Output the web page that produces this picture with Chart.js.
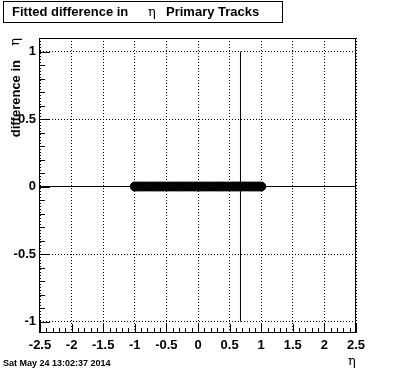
<!DOCTYPE html>
<html>
<head>
<meta charset="utf-8">
<script src="https://cdn.jsdelivr.net/npm/chart.js@4.4.1/dist/chart.umd.min.js"></script>
<style>
  html, body { margin: 0; padding: 0; background: #fff; }
  canvas { display: block; }
</style>
</head>
<body>
<canvas id="etaChart" width="396" height="372"></canvas>
<script>
// fitted difference in eta per bin (primary tracks)
const binEta = [-1.0, -0.95, -0.9, -0.85, -0.8, -0.75, -0.7, -0.65, -0.6, -0.55,
                -0.5, -0.45, -0.4, -0.35, -0.3, -0.25, -0.2, -0.15, -0.1, -0.05,
                0.0, 0.05, 0.1, 0.15, 0.2, 0.25, 0.3, 0.35, 0.4, 0.45,
                0.5, 0.55, 0.6, 0.65, 0.7, 0.75, 0.8, 0.85, 0.9, 0.95, 1.0];
const binDiff = [0, 0, 0, 0, 0, 0, 0, 0, 0, 0,
                 0, 0, 0, 0, 0, 0, 0, 0, 0, 0,
                 0, 0, 0, 0, 0, 0, 0, 0, 0, 0,
                 0, 0, 0, 0, 0, 0, 0, 0, 0, 0, 0];

// fit line and the single vertical marker
const fitEta = [-2.5, 2.5];
const fitDiff = [0, 0];
const markEta = [0.672, 0.672];
const markDiff = [-1, 1];

const xTicks = [-2.5, -2, -1.5, -1, -0.5, 0, 0.5, 1, 1.5, 2, 2.5];
const yTicks = [-1, -0.5, 0, 0.5, 1];

const titleText = 'Fitted difference in';
const titleEta = 'η';
const titleTail = 'Primary Tracks';
const yTitle = 'difference in';
const xTitle = 'η';
const stampText = 'Sat May 24 13:02:37 2014';

const toPoints = (xs, ys) => xs.map((x, i) => ({ x: x, y: ys[i] }));

const BOLD = 'bold 13px "Liberation Sans", Arial, sans-serif';
const GREEK = '13px "DejaVu Serif", "Liberation Serif", serif';

// frame, inward ticks and all the text ROOT puts around the pad
const rootDecor = {
    id: 'rootDecor',
    afterDraw(chart) {
        const c = chart.ctx;
        const a = chart.chartArea;
        const xs = chart.scales.x;
        const ys = chart.scales.y;
        c.save();
        c.strokeStyle = '#000';
        c.lineWidth = 1;
        c.setLineDash([]);
        c.strokeRect(Math.round(a.left) - 0.5, Math.round(a.top) + 0.5,
                     Math.round(a.right - a.left), Math.round(a.bottom - a.top) - 1);

        c.beginPath();
        for (let i = -25; i <= 25; i++) {
            const px = Math.round(xs.getPixelForValue(i / 10)) + 0.5;
            const len = i % 5 === 0 ? 9 : 5;
            c.moveTo(px, a.bottom);
            c.lineTo(px, a.bottom - len);
        }
        for (let i = -10; i <= 11; i++) {
            const py = Math.round(ys.getPixelForValue(i / 10)) + 0.5;
            const len = i % 5 === 0 ? 10 : 5;
            c.moveTo(a.left, py);
            c.lineTo(a.left + len, py);
        }
        c.stroke();

        // title box
        c.strokeRect(3.5, 1.5, 279, 21);
        c.fillStyle = '#000';
        c.textBaseline = 'middle';
        c.textAlign = 'left';
        c.font = BOLD;
        c.fillText(titleText, 12, 12);
        c.font = GREEK;
        c.fillText(titleEta, 148, 13);
        c.font = BOLD;
        c.fillText(titleTail, 166, 12);

        // y title, rotated
        c.save();
        c.translate(16, 0);
        c.rotate(-Math.PI / 2);
        c.textAlign = 'right';
        c.font = BOLD;
        c.fillText(yTitle, -60, 0);
        c.font = GREEK;
        c.fillText(xTitle, -38, 0);
        c.restore();

        // x title
        c.font = GREEK;
        c.textAlign = 'left';
        c.fillText(xTitle, 348, 362);

        // time stamp
        c.font = 'bold 9px "Liberation Sans", Arial, sans-serif';
        c.fillText(stampText, 3, 364);
        c.restore();
    }
};

document.addEventListener('DOMContentLoaded', function () {
    const ctx = document.getElementById('etaChart').getContext('2d');

    new Chart(ctx, {
        type: 'scatter',
        data: {
            datasets: [{
                label: 'fit',
                data: toPoints(fitEta, fitDiff),
                showLine: true,
                borderColor: '#000',
                borderWidth: 1,
                pointRadius: 0,
                order: 3
            },
            {
                label: 'mark',
                data: toPoints(markEta, markDiff),
                showLine: true,
                borderColor: '#000',
                borderWidth: 1,
                pointRadius: 0,
                order: 1
            },
            {
                label: 'bins',
                data: toPoints(binEta, binDiff),
                showLine: false,
                pointRadius: 4.5,
                pointBorderWidth: 1,
                pointBackgroundColor: '#000',
                pointBorderColor: '#000',
                order: 2
            }]
        },
        options: {
            responsive: false,
            animation: false,
            devicePixelRatio: 1,
            layout: { padding: { left: 0, right: 40, top: 38, bottom: 0 } },
            plugins: {
                legend: { display: false },
                tooltip: { enabled: false },
                title: { display: false }
            },
            scales: {
                x: {
                    type: 'linear',
                    min: -2.5,
                    max: 2.5,
                    afterBuildTicks: s => { s.ticks = xTicks.map(v => ({ value: v })); },
                    afterFit: s => { s.height = 39; },
                    border: { display: false, dash: [1, 2] },
                    grid: {
                        color: '#000',
                        lineWidth: 1,
                        drawTicks: false
                    },
                    ticks: {
                        color: '#000',
                        padding: 5,
                        maxRotation: 0,
                        autoSkip: false,
                        font: { family: '"Liberation Sans", Arial, sans-serif', size: 13, weight: 'bold' },
                        callback: v => String(Math.round(v * 10) / 10)
                    }
                },
                y: {
                    type: 'linear',
                    min: -1.085,
                    max: 1.1,
                    afterBuildTicks: s => { s.ticks = yTicks.map(v => ({ value: v })); },
                    afterFit: s => { s.width = 40; },
                    border: { display: false, dash: [1, 2] },
                    grid: {
                        color: '#000',
                        lineWidth: 1,
                        drawTicks: false
                    },
                    ticks: {
                        color: '#000',
                        padding: 4,
                        font: { family: '"Liberation Sans", Arial, sans-serif', size: 13, weight: 'bold' },
                        callback: v => String(Math.round(v * 10) / 10)
                    }
                }
            }
        },
        plugins: [rootDecor]
    });
});
</script>
</body>
</html>
